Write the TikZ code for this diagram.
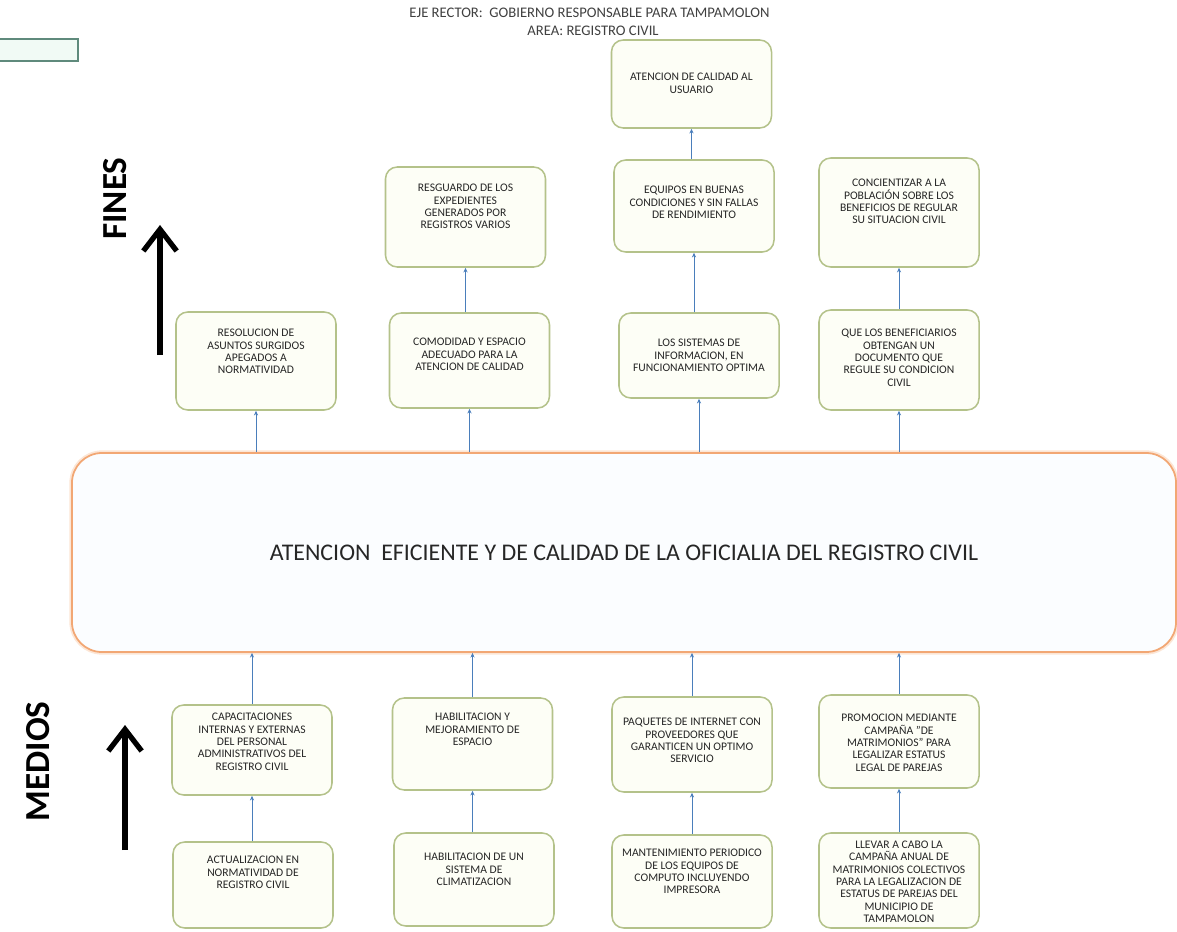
\documentclass[tikz,border=0pt]{standalone}
\usepackage{fontspec}
\setmainfont{Carlito}
\usepackage{tikz}
\usetikzlibrary{arrows.meta,positioning,calc}
\definecolor{CellLine}{HTML}{B4C28A}
\definecolor{CellFill}{HTML}{FDFEF6}
\definecolor{CellText}{HTML}{262626}
\definecolor{MainLine}{HTML}{F2A774}
\definecolor{MainGlow}{HTML}{FCE6D6}
\definecolor{MainFill}{HTML}{FBFDFF}
\definecolor{LinkBlue}{HTML}{4A7EBB}
\definecolor{TitleGray}{HTML}{404040}
\definecolor{DocTeal}{HTML}{5F8A7C}
\definecolor{DocMint}{HTML}{F1FAF5}
% text box with fixed height and top padding
\newcommand{\celltext}[3]{\parbox[c][#1][t]{4.7cm}{\centering\vspace*{#2}#3}}

\begin{document}
\begin{tikzpicture}[
    x=0.03cm, y=-0.03cm,
    cell/.style={
      draw=CellLine,
      fill=CellFill,
      line width=1.3pt,
      rounded corners=10pt,
      minimum width=4.8cm,
      inner sep=0pt,
      text=CellText,
      font=\fontsize{9.9}{10.5}\selectfont
    },
    main/.style={
      draw=MainLine,
      fill=MainFill,
      line width=1.5pt,
      preaction={draw=MainGlow, line width=4.5pt},
      rounded corners=0.9cm,
      minimum width=33.12cm,
      minimum height=5.97cm,
      text=CellText,
      font=\fontsize{20.4}{24}\selectfont
    },
    title/.style={
      text=TitleGray,
      font=\fontsize{12.5}{15}\selectfont
    },
    side/.style={
      font=\fontsize{30}{36}\selectfont\bfseries
    },
    link/.style={
      draw=LinkBlue,
      line width=0.8pt,
      -{Stealth[length=4pt,width=3.5pt]}
    },
    bigarrow/.style={
      line width=4.5pt,
      -{Straight Barb[length=0.65cm,width=1.0cm]}
    }
  ]
  \useasboundingbox (0,0) rectangle (1177,932);

  % Title
  \node[title] (eje) at (589.5,13) {EJE RECTOR:\ \ GOBIERNO RESPONSABLE PARA TAMPAMOLON};
  \node[title] (area) at (593,31) {AREA: REGISTRO CIVIL};
  \draw[line width=1.5pt, draw=DocTeal, fill=DocMint] (-10,39) rectangle (78,61);

  % Fines
  \node[cell] (usu) at (691.5,84) {\celltext{2.64cm}{1.0cm}{ATENCION DE CALIDAD AL\\USUARIO}};
  \node[cell] (resg) at (465.5,217) {\celltext{3.0cm}{0.52cm}{RESGUARDO DE LOS\\EXPEDIENTES\\GENERADOS POR\\REGISTROS VARIOS}};
  \node[cell] (equ) at (694,206) {\celltext{2.76cm}{0.79cm}{EQUIPOS EN BUENAS\\CONDICIONES Y SIN FALLAS\\DE RENDIMIENTO}};
  \node[cell] (conc) at (899,212.5) {\celltext{3.27cm}{0.64cm}{CONCIENTIZAR A LA\\POBLACIÓN SOBRE LOS\\BENEFICIOS DE REGULAR\\SU SITUACION CIVIL}};
  \node[cell] (res) at (256,361) {\celltext{2.94cm}{0.52cm}{RESOLUCION DE\\ASUNTOS SURGIDOS\\APEGADOS A\\NORMATIVIDAD}};
  \node[cell] (com) at (469.5,360.5) {\celltext{2.85cm}{0.76cm}{COMODIDAD Y ESPACIO\\ADECUADO PARA LA\\ATENCION DE CALIDAD}};
  \node[cell] (sis) at (699,355.5) {\celltext{2.55cm}{0.79cm}{LOS SISTEMAS DE\\INFORMACION, EN\\FUNCIONAMIENTO OPTIMA}};
  \node[cell] (que) at (899,360) {\celltext{3.0cm}{0.58cm}{QUE LOS BENEFICIARIOS\\OBTENGAN UN\\DOCUMENTO QUE\\REGULE SU CONDICION\\CIVIL}};

  % Central problem
  \node[main] (main) at (624,552.5) {ATENCION\ \ EFICIENTE Y DE CALIDAD DE LA OFICIALIA DEL REGISTRO CIVIL};

  % Medios
  \node[cell] (cap) at (252,750) {\celltext{2.7cm}{0.25cm}{CAPACITACIONES\\INTERNAS Y EXTERNAS\\DEL PERSONAL\\ADMINISTRATIVOS DEL\\REGISTRO CIVIL}};
  \node[cell] (hab) at (472.5,744) {\celltext{2.76cm}{0.46cm}{HABILITACION Y\\MEJORAMIENTO DE\\ESPACIO}};
  \node[cell] (paq) at (692,744.5) {\celltext{2.85cm}{0.64cm}{PAQUETES DE INTERNET CON\\PROVEEDORES QUE\\GARANTICEN UN OPTIMO\\SERVICIO}};
  \node[cell] (pro) at (899,741.5) {\celltext{2.79cm}{0.58cm}{PROMOCION MEDIANTE\\CAMPAÑA "DE\\MATRIMONIOS" PARA\\LEGALIZAR ESTATUS\\LEGAL DE PAREJAS}};
  \node[cell] (act) at (253,885) {\celltext{2.58cm}{0.43cm}{ACTUALIZACION EN\\NORMATIVIDAD DE\\REGISTRO CIVIL}};
  \node[cell] (cli) at (474,879.5) {\celltext{2.79cm}{0.61cm}{HABILITACION DE UN\\SISTEMA DE\\CLIMATIZACION}};
  \node[cell] (man) at (692,881.5) {\celltext{2.79cm}{0.43cm}{MANTENIMIENTO PERIODICO\\DE LOS EQUIPOS DE\\COMPUTO INCLUYENDO\\IMPRESORA}};
  \node[cell] (lle) at (899,880.5) {\celltext{2.85cm}{0.24cm}{LLEVAR A CABO LA\\CAMPAÑA ANUAL DE\\MATRIMONIOS COLECTIVOS\\PARA LA LEGALIZACION DE\\ESTATUS DE PAREJAS DEL\\MUNICIPIO DE\\TAMPAMOLON}};

  % Links
  \draw[link] (res.south |- main.north) -- (res.south);
  \draw[link] (com.south |- main.north) -- (com.south);
  \draw[link] (sis.south |- main.north) -- (sis.south);
  \draw[link] (que.south |- main.north) -- (que.south);
  \draw[link] (resg.south |- com.north) -- (resg.south);
  \draw[link] (equ.south |- sis.north) -- (equ.south);
  \draw[link] (conc.south |- que.north) -- (conc.south);
  \draw[link] (usu.south |- equ.north) -- (usu.south);
  \draw[link] (cap.north) -- (cap.north |- main.south);
  \draw[link] (hab.north) -- (hab.north |- main.south);
  \draw[link] (paq.north) -- (paq.north |- main.south);
  \draw[link] (pro.north) -- (pro.north |- main.south);
  \draw[link] (cap.south |- act.north) -- (cap.south);
  \draw[link] (hab.south |- cli.north) -- (hab.south);
  \draw[link] (paq.south |- man.north) -- (paq.south);
  \draw[link] (pro.south |- lle.north) -- (pro.south);

  % Side labels
  \node[side, rotate=90] (fines) at (115,198.5) {FINES};
  \node[side, rotate=90] (medios) at (38.5,761.5) {MEDIOS};
  \coordinate (fines-bot) at (160,355);
  \coordinate (fines-top) at (160,225);
  \coordinate (medios-bot) at (125,850);
  \coordinate (medios-top) at (125,725);
  \draw[bigarrow] (fines-bot) -- (fines-top);
  \draw[bigarrow] (medios-bot) -- (medios-top);

\end{tikzpicture}
\end{document}
